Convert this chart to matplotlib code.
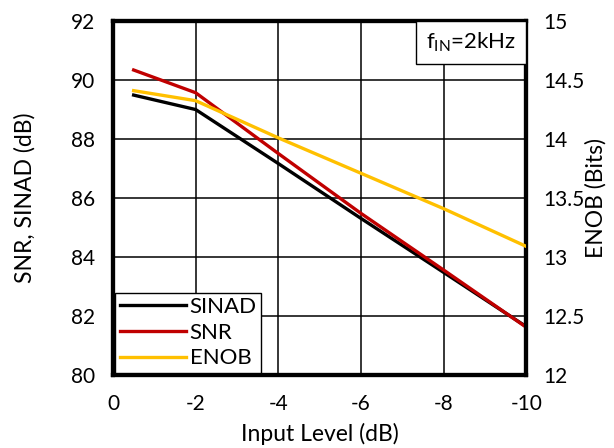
import numpy as np
import matplotlib.pyplot as plt
from matplotlib.offsetbox import AnchoredText

plt.rcParams['font.family'] = ['Lato', 'DejaVu Sans']
plt.rcParams['mathtext.default'] = 'regular'

# ----- Data -----
input_level = [-0.5, -2, -4, -6, -8, -10]
sinad = [89.49, 89.0, 87.17, 85.31, 83.48, 81.64]
snr = [90.34, 89.57, 87.51, 85.48, 83.56, 81.62]
enob = [14.41, 14.325, 14.01, 13.71, 13.41, 13.09]

x_ticks = [0, -2, -4, -6, -8, -10]
x_ticklabels = ['0', '-2', '-4', '-6', '-8', '-10']
left_ticks = [80, 82, 84, 86, 88, 90, 92]
right_ticks = [12, 12.5, 13, 13.5, 14, 14.5, 15]
right_ticklabels = ['12', '12.5', '13', '13.5', '14', '14.5', '15']

# ----- Plot -----
fig = plt.figure(figsize=(6.14, 4.48), dpi=100)
ax = fig.add_axes([0.184, 0.163, 0.673, 0.790])
ax2 = ax.twinx()

l1, = ax.plot(input_level, sinad, color='black', lw=2.4, label='SINAD', zorder=3)
l2, = ax.plot(input_level, snr, color='#c00000', lw=2.4, label='SNR', zorder=3)
l3, = ax2.plot(input_level, enob, color='#ffc000', lw=2.4, label='ENOB', zorder=3)

ax.set_xlim(0, -10)
ax.set_ylim(80, 92)
ax2.set_ylim(12, 15)

ax.set_xticks(x_ticks)
ax.set_xticklabels(x_ticklabels)
ax.set_yticks(left_ticks)
ax2.set_yticks(right_ticks)
ax2.set_yticklabels(right_ticklabels)

ax.grid(True, color='black', lw=1.1)
ax.tick_params(axis='x', length=0, pad=14, labelsize=15)
ax.tick_params(axis='y', length=0, pad=13, labelsize=15)
ax2.tick_params(length=0, pad=12, labelsize=15)

for a in (ax, ax2):
    for s in a.spines.values():
        s.set_linewidth(3)
        s.set_color('black')

ax.set_xlabel('Input Level (dB)', fontsize=16.5, labelpad=6)
ax.set_ylabel('SNR, SINAD (dB)', fontsize=16.5, labelpad=25)
ax2.set_ylabel('ENOB (Bits)', fontsize=16.5, labelpad=1)

leg = ax2.legend(handles=[l1, l2, l3], loc='lower left', fancybox=False,
                 edgecolor='black', framealpha=1, fontsize=16,
                 handlelength=3.0, handletextpad=0.15, labelspacing=0.25,
                 borderpad=0.2, borderaxespad=0.1)
leg.get_frame().set_linewidth(1.0)

at = AnchoredText(r'f$_{IN}$=2kHz', loc='upper right', prop=dict(size=16),
                  frameon=True, pad=0.45, borderpad=0.0)
at.patch.set_boxstyle('square,pad=0')
at.patch.set_linewidth(1.0)
at.set_zorder(5)
ax2.add_artist(at)

fig.savefig('out.png', dpi=100)
